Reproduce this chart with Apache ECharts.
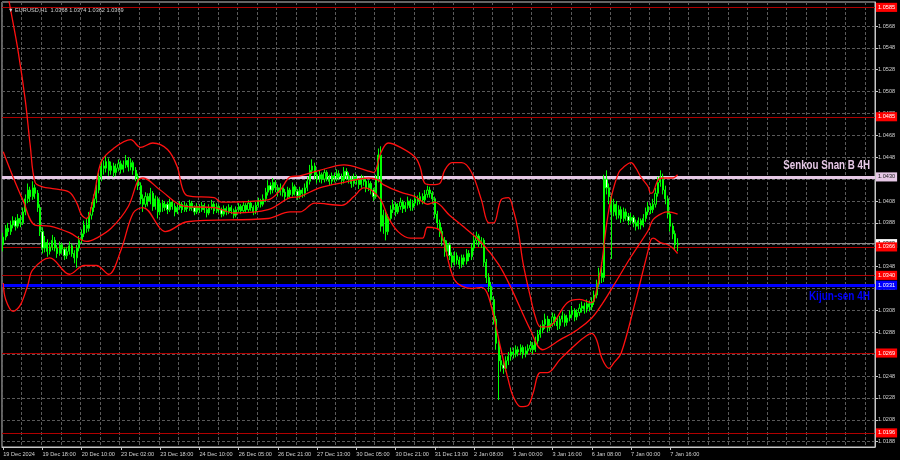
<!DOCTYPE html>
<html><head><meta charset="utf-8">
<script src="https://cdn.jsdelivr.net/npm/echarts@6/dist/echarts.min.js"></script>
<style>html,body{margin:0;padding:0;background:#000;}#c{width:900px;height:460px;}</style>
</head><body><div id="c"></div>
<script>
const titleText = '\u25BC EURUSD,H1  1.0368 1.0374 1.0362 1.0369';
const xTickLabels = ['19 Dec 2024','19 Dec 18:00','20 Dec 10:00','23 Dec 02:00','23 Dec 18:00','24 Dec 10:00','26 Dec 05:00','26 Dec 21:00','27 Dec 13:00','30 Dec 05:00','30 Dec 21:00','31 Dec 13:00','2 Jan 08:00','3 Jan 00:00','3 Jan 16:00','6 Jan 08:00','7 Jan 00:00','7 Jan 16:00'];
const yTicks = [1.0188,1.0208,1.0228,1.0248,1.0268,1.0288,1.0308,1.0328,1.0348,1.0368,1.0388,1.0408,1.0428,1.0448,1.0468,1.0488,1.0508,1.0528,1.0548,1.0568];

const opens = [
1.0368,1.0375,1.0383,1.0380,1.0386,1.0390,1.0385,1.0392,1.0388,1.0398,
1.0410,1.0418,1.0412,1.0420,1.0415,1.0402,1.0380,1.0365,1.0370,1.0362,
1.0366,1.0372,1.0365,1.0360,1.0368,1.0364,1.0358,1.0362,1.0367,1.0360,
1.0356,1.0365,1.0372,1.0378,1.0386,1.0383,1.0395,1.0402,1.0410,1.0418,
1.0430,1.0440,1.0438,1.0444,1.0436,1.0440,1.0434,1.0438,1.0442,1.0437,
1.0441,1.0445,1.0439,1.0443,1.0436,1.0430,1.0422,1.0410,1.0405,1.0412,
1.0408,1.0415,1.0403,1.0410,1.0398,1.0406,1.0402,1.0405,1.0400,1.0407,
1.0403,1.0398,1.0402,1.0405,1.0400,1.0404,1.0401,1.0406,1.0402,1.0398,
1.0403,1.0400,1.0404,1.0400,1.0397,1.0402,1.0405,1.0399,1.0403,1.0400,
1.0396,1.0401,1.0398,1.0402,1.0399,1.0395,1.0400,1.0403,1.0399,1.0404,
1.0400,1.0406,1.0402,1.0398,1.0404,1.0408,1.0405,1.0410,1.0416,1.0422,
1.0418,1.0425,1.0420,1.0416,1.0420,1.0416,1.0412,1.0418,1.0414,1.0421,
1.0417,1.0413,1.0418,1.0415,1.0420,1.0426,1.0436,1.0440,1.0432,1.0428,
1.0432,1.0428,1.0434,1.0430,1.0426,1.0431,1.0429,1.0433,1.0430,1.0427,
1.0435,1.0431,1.0428,1.0424,1.0430,1.0427,1.0423,1.0429,1.0426,1.0420,
1.0424,1.0418,1.0412,1.0428,1.0450,1.0385,1.0395,1.0380,1.0392,1.0400,
1.0405,1.0398,1.0403,1.0407,1.0401,1.0404,1.0408,1.0402,1.0406,1.0410,
1.0408,1.0412,1.0409,1.0414,1.0418,1.0415,1.0410,1.0396,1.0388,1.0380,
1.0372,1.0362,1.0368,1.0358,1.0352,1.0358,1.0354,1.0350,1.0356,1.0353,
1.0360,1.0357,1.0365,1.0372,1.0376,1.0370,1.0372,1.0352,1.0338,1.0330,
1.0318,1.0300,1.0278,1.0262,1.0258,1.0255,1.0262,1.0266,1.0270,1.0268,
1.0272,1.0270,1.0274,1.0268,1.0271,1.0273,1.0276,1.0272,1.0280,1.0286,
1.0290,1.0295,1.0300,1.0292,1.0296,1.0302,1.0298,1.0294,1.0300,1.0303,
1.0297,1.0301,1.0304,1.0308,1.0302,1.0306,1.0310,1.0312,1.0309,1.0314,
1.0311,1.0316,1.0322,1.0332,1.0342,1.0338,1.0428,1.0420,1.0412,1.0398,
1.0405,1.0395,1.0400,1.0392,1.0398,1.0394,1.0390,1.0393,1.0388,1.0385,
1.0390,1.0386,1.0392,1.0398,1.0403,1.0400,1.0405,1.0415,1.0425,1.0430,
1.0418,1.0410,1.0396,1.0385,1.0378,1.0368];
const closes = [
1.0375,1.0383,1.0380,1.0386,1.0390,1.0385,1.0392,1.0388,1.0398,1.0410,
1.0418,1.0412,1.0420,1.0415,1.0402,1.0380,1.0365,1.0370,1.0362,1.0366,
1.0372,1.0365,1.0360,1.0368,1.0364,1.0358,1.0362,1.0367,1.0360,1.0356,
1.0365,1.0372,1.0378,1.0386,1.0383,1.0395,1.0402,1.0410,1.0418,1.0430,
1.0440,1.0438,1.0444,1.0436,1.0440,1.0434,1.0438,1.0442,1.0437,1.0441,
1.0445,1.0439,1.0443,1.0436,1.0430,1.0422,1.0410,1.0405,1.0412,1.0408,
1.0415,1.0403,1.0410,1.0398,1.0406,1.0402,1.0405,1.0400,1.0407,1.0403,
1.0398,1.0402,1.0405,1.0400,1.0404,1.0401,1.0406,1.0402,1.0398,1.0403,
1.0400,1.0404,1.0400,1.0397,1.0402,1.0405,1.0399,1.0403,1.0400,1.0396,
1.0401,1.0398,1.0402,1.0399,1.0395,1.0400,1.0403,1.0399,1.0404,1.0400,
1.0406,1.0402,1.0398,1.0404,1.0408,1.0405,1.0410,1.0416,1.0422,1.0418,
1.0425,1.0420,1.0416,1.0420,1.0416,1.0412,1.0418,1.0414,1.0421,1.0417,
1.0413,1.0418,1.0415,1.0420,1.0426,1.0436,1.0440,1.0432,1.0428,1.0432,
1.0428,1.0434,1.0430,1.0426,1.0431,1.0429,1.0433,1.0430,1.0427,1.0435,
1.0431,1.0428,1.0424,1.0430,1.0427,1.0423,1.0429,1.0426,1.0420,1.0424,
1.0418,1.0412,1.0428,1.0450,1.0385,1.0395,1.0380,1.0392,1.0400,1.0405,
1.0398,1.0403,1.0407,1.0401,1.0404,1.0408,1.0402,1.0406,1.0410,1.0408,
1.0412,1.0409,1.0414,1.0418,1.0415,1.0410,1.0396,1.0388,1.0380,1.0372,
1.0362,1.0368,1.0358,1.0352,1.0358,1.0354,1.0350,1.0356,1.0353,1.0360,
1.0357,1.0365,1.0372,1.0376,1.0370,1.0372,1.0352,1.0338,1.0330,1.0318,
1.0300,1.0278,1.0262,1.0258,1.0255,1.0262,1.0266,1.0270,1.0268,1.0272,
1.0270,1.0274,1.0268,1.0271,1.0273,1.0276,1.0272,1.0280,1.0286,1.0290,
1.0295,1.0300,1.0292,1.0296,1.0302,1.0298,1.0294,1.0300,1.0303,1.0297,
1.0301,1.0304,1.0308,1.0302,1.0306,1.0310,1.0312,1.0309,1.0314,1.0311,
1.0316,1.0322,1.0332,1.0342,1.0338,1.0428,1.0420,1.0412,1.0398,1.0405,
1.0395,1.0400,1.0392,1.0398,1.0394,1.0390,1.0393,1.0388,1.0385,1.0390,
1.0386,1.0392,1.0398,1.0403,1.0400,1.0405,1.0415,1.0425,1.0430,1.0418,
1.0410,1.0396,1.0385,1.0378,1.0368,1.0369];
const highs = [
1.0379,1.0386,1.0388,1.0390,1.0394,1.0393,1.0396,1.0395,1.0402,1.0414,
1.0424,1.0421,1.0426,1.0423,1.0418,1.0405,1.0384,1.0376,1.0373,1.0370,
1.0377,1.0375,1.0368,1.0371,1.0370,1.0366,1.0366,1.0371,1.0369,1.0363,
1.0368,1.0376,1.0382,1.0390,1.0392,1.0398,1.0407,1.0414,1.0423,1.0434,
1.0446,1.0445,1.0449,1.0447,1.0444,1.0443,1.0442,1.0446,1.0445,1.0445,
1.0450,1.0448,1.0447,1.0445,1.0439,1.0433,1.0425,1.0414,1.0416,1.0415,
1.0420,1.0417,1.0413,1.0412,1.0409,1.0409,1.0408,1.0407,1.0410,1.0409,
1.0406,1.0405,1.0408,1.0407,1.0407,1.0406,1.0409,1.0408,1.0404,1.0406,
1.0405,1.0407,1.0406,1.0402,1.0405,1.0409,1.0407,1.0406,1.0405,1.0402,
1.0404,1.0403,1.0405,1.0404,1.0401,1.0403,1.0406,1.0405,1.0407,1.0406,
1.0409,1.0408,1.0404,1.0407,1.0411,1.0410,1.0414,1.0420,1.0427,1.0425,
1.0429,1.0427,1.0423,1.0424,1.0422,1.0419,1.0421,1.0420,1.0425,1.0423,
1.0419,1.0421,1.0420,1.0424,1.0430,1.0441,1.0446,1.0443,1.0435,1.0436,
1.0434,1.0437,1.0436,1.0432,1.0434,1.0434,1.0437,1.0436,1.0433,1.0439,
1.0438,1.0434,1.0431,1.0433,1.0432,1.0429,1.0432,1.0431,1.0428,1.0427,
1.0426,1.0420,1.0432,1.0456,1.0458,1.0400,1.0398,1.0396,1.0404,1.0409,
1.0407,1.0406,1.0411,1.0409,1.0407,1.0412,1.0410,1.0409,1.0414,1.0413,
1.0416,1.0415,1.0418,1.0422,1.0421,1.0417,1.0412,1.0399,1.0391,1.0384,
1.0375,1.0372,1.0370,1.0361,1.0362,1.0361,1.0357,1.0359,1.0359,1.0364,
1.0363,1.0369,1.0376,1.0380,1.0378,1.0375,1.0374,1.0355,1.0342,1.0334,
1.0321,1.0303,1.0282,1.0267,1.0263,1.0266,1.0270,1.0274,1.0274,1.0276,
1.0275,1.0277,1.0276,1.0275,1.0277,1.0280,1.0279,1.0284,1.0290,1.0295,
1.0299,1.0305,1.0303,1.0300,1.0306,1.0305,1.0301,1.0303,1.0307,1.0305,
1.0304,1.0308,1.0312,1.0310,1.0309,1.0314,1.0316,1.0315,1.0318,1.0317,
1.0320,1.0326,1.0336,1.0347,1.0352,1.0432,1.0436,1.0424,1.0415,1.0410,
1.0408,1.0404,1.0403,1.0402,1.0401,1.0397,1.0397,1.0395,1.0391,1.0393,
1.0392,1.0396,1.0402,1.0407,1.0406,1.0410,1.0420,1.0430,1.0436,1.0433,
1.0422,1.0413,1.0399,1.0388,1.0381,1.0374];
const lows = [
1.0362,1.0372,1.0376,1.0377,1.0383,1.0381,1.0383,1.0384,1.0386,1.0395,
1.0406,1.0407,1.0409,1.0410,1.0398,1.0376,1.0360,1.0361,1.0357,1.0359,
1.0363,1.0362,1.0356,1.0358,1.0360,1.0354,1.0355,1.0359,1.0357,1.0351,
1.0347,1.0362,1.0369,1.0375,1.0379,1.0380,1.0391,1.0398,1.0406,1.0415,
1.0426,1.0432,1.0434,1.0431,1.0432,1.0430,1.0431,1.0435,1.0433,1.0434,
1.0438,1.0435,1.0436,1.0432,1.0426,1.0418,1.0405,1.0398,1.0402,1.0403,
1.0405,1.0399,1.0400,1.0392,1.0395,1.0398,1.0399,1.0396,1.0398,1.0400,
1.0394,1.0396,1.0400,1.0397,1.0398,1.0398,1.0399,1.0399,1.0395,1.0396,
1.0397,1.0398,1.0397,1.0393,1.0395,1.0400,1.0396,1.0397,1.0397,1.0393,
1.0394,1.0395,1.0396,1.0396,1.0392,1.0393,1.0398,1.0396,1.0397,1.0397,
1.0398,1.0399,1.0395,1.0396,1.0402,1.0402,1.0403,1.0407,1.0413,1.0414,
1.0415,1.0416,1.0412,1.0413,1.0412,1.0408,1.0410,1.0411,1.0412,1.0413,
1.0409,1.0410,1.0411,1.0412,1.0417,1.0423,1.0432,1.0428,1.0424,1.0425,
1.0424,1.0425,1.0426,1.0422,1.0423,1.0425,1.0426,1.0427,1.0423,1.0424,
1.0427,1.0424,1.0420,1.0421,1.0423,1.0419,1.0420,1.0422,1.0416,1.0417,
1.0414,1.0408,1.0410,1.0425,1.0380,1.0378,1.0372,1.0377,1.0389,1.0397,
1.0394,1.0396,1.0400,1.0397,1.0398,1.0401,1.0399,1.0399,1.0403,1.0404,
1.0405,1.0405,1.0406,1.0411,1.0411,1.0405,1.0392,1.0383,1.0375,1.0367,
1.0357,1.0358,1.0354,1.0347,1.0349,1.0350,1.0346,1.0347,1.0349,1.0350,
1.0353,1.0354,1.0362,1.0368,1.0366,1.0365,1.0348,1.0333,1.0325,1.0313,
1.0295,1.0272,1.0226,1.0252,1.0250,1.0252,1.0258,1.0262,1.0264,1.0265,
1.0266,1.0267,1.0264,1.0265,1.0268,1.0270,1.0268,1.0270,1.0277,1.0283,
1.0287,1.0291,1.0288,1.0289,1.0293,1.0294,1.0290,1.0291,1.0297,1.0293,
1.0294,1.0298,1.0301,1.0298,1.0299,1.0303,1.0306,1.0305,1.0306,1.0307,
1.0308,1.0313,1.0319,1.0329,1.0333,1.0334,1.0414,1.0405,1.0355,1.0394,
1.0391,1.0392,1.0388,1.0389,1.0390,1.0386,1.0387,1.0384,1.0381,1.0382,
1.0382,1.0384,1.0389,1.0395,1.0396,1.0397,1.0402,1.0412,1.0421,1.0414,
1.0405,1.0392,1.0380,1.0373,1.0364,1.0362];

const upperBand = [[0,1.0619],[3,1.0583],[6,1.0546],[9,1.0500],[11,1.0459],[13,1.0425],[16,1.0421],[21,1.0419],[27,1.0416],[30,1.0406],[32,1.0395],[34,1.0392],[37,1.0413],[40,1.0444],[45,1.0456],[52,1.0464],[56,1.0457],[61,1.0461],[67,1.0455],[71,1.0439],[73,1.0420],[75,1.0413],[86,1.0411],[89,1.0407],[108,1.0409],[113,1.0418],[117,1.0430],[121,1.0431],[129,1.0436],[139,1.0441],[148,1.0436],[151,1.0434],[154,1.0452],[157,1.0461],[162,1.0457],[168,1.0448],[170,1.0439],[172,1.0424],[175,1.0423],[178,1.0424],[180,1.0436],[183,1.0443],[187,1.0443],[191,1.0434],[195,1.0409],[198,1.0388],[200,1.0388],[203,1.0409],[206,1.0411],[208,1.0400],[210,1.0381],[212,1.0351],[215,1.0320],[217,1.0302],[219,1.0293],[222,1.0293],[230,1.0315],[235,1.0318],[240,1.0315],[242,1.0327],[244,1.0350],[246,1.0386],[248,1.0412],[251,1.0434],[253,1.0439],[256,1.0443],[258,1.0438],[260,1.0430],[263,1.0421],[264,1.0415],[265,1.0416],[267,1.0427],[269,1.0429],[273,1.0429],[275,1.0432]];
const middleBand = [[0,1.0453],[4,1.0430],[8,1.0409],[13,1.0386],[19,1.0385],[27,1.0379],[34,1.0371],[38,1.0374],[44,1.0383],[51,1.0403],[55,1.0427],[57,1.0429],[64,1.0418],[74,1.0403],[86,1.0402],[94,1.0397],[108,1.0400],[117,1.0411],[121,1.0412],[129,1.0420],[139,1.0425],[149,1.0429],[153,1.0427],[155,1.0423],[162,1.0416],[168,1.0412],[173,1.0405],[176,1.0407],[182,1.0395],[188,1.0384],[195,1.0370],[202,1.0350],[207,1.0329],[215,1.0290],[220,1.0272],[227,1.0281],[234,1.0290],[240,1.0301],[244,1.0313],[249,1.0331],[256,1.0357],[263,1.0381],[265,1.0391],[269,1.0397],[271,1.0398],[275,1.0396]];
const lowerBand = [[0,1.0333],[1,1.0318],[4,1.0307],[7,1.0313],[10,1.0331],[12,1.0345],[19,1.0356],[27,1.0341],[33,1.0349],[38,1.0349],[43,1.0341],[48,1.0363],[53,1.0397],[57,1.0402],[64,1.0383],[66,1.0380],[75,1.0389],[108,1.0392],[117,1.0398],[121,1.0398],[127,1.0406],[138,1.0404],[143,1.0412],[147,1.0420],[150,1.0418],[154,1.0409],[157,1.0393],[161,1.0380],[166,1.0374],[171,1.0374],[173,1.0384],[178,1.0381],[184,1.0336],[191,1.0328],[195,1.0329],[198,1.0320],[203,1.0272],[206,1.0244],[208,1.0229],[211,1.0220],[214,1.0221],[216,1.0232],[219,1.0251],[222,1.0251],[227,1.0263],[234,1.0278],[238,1.0285],[240,1.0287],[242,1.0281],[244,1.0265],[247,1.0255],[249,1.0260],[252,1.0269],[258,1.0318],[261,1.0345],[263,1.0363],[264,1.0372],[265,1.0374],[268,1.0370],[271,1.0368],[273,1.0365],[275,1.0360]];

const redLevels = [1.0585, 1.0485, 1.0366, 1.0340, 1.0269, 1.0196];
const lastPrice = 1.0369;
const senkouB = 1.0430;
const kijun = 1.0331;
const senkouLabel = 'Senkou Snan B 4H';
const kijunLabel = 'Kijun-sen 4H';

const SLOTS = 356;
const Y_MIN = 1.01831, Y_MAX = 1.05899;
const N = opens.length;
const cats = Array.from({length: SLOTS}, (_, i) => String(i));
const candleData = opens.map((o, i) => [o, closes[i], lows[i], highs[i]]);
const FF = "'Liberation Sans', Arial, sans-serif";
const FS = 5.6;

function box(v, bg, fg) {
  return {show: true, position: 'end', distance: 1, formatter: v.toFixed(4), backgroundColor: bg, color: fg,
    fontSize: FS, fontFamily: FF, padding: [1.5, 2, 1, 2], lineHeight: FS + 1};
}
const mark = [];
mark.push({yAxis: lastPrice, lineStyle: {color: '#8c8c8c', width: 1, type: 'solid'}, label: box(lastPrice, '#ffffff', '#000000')});
redLevels.forEach(v => mark.push({yAxis: v, lineStyle: {color: '#b00000', width: 1.2, type: 'solid'}, label: box(v, '#ff0000', '#ffffff')}));
mark.push({yAxis: senkouB, lineStyle: {color: '#e6c8e6', width: 3, type: 'solid'}, label: box(senkouB, '#e6c8e6', '#202020')});
mark.push({yAxis: kijun, lineStyle: {color: '#0000ff', width: 3, type: 'solid'}, label: box(kijun, '#0000ff', '#ffffff')});

function band(data) {
  return {type: 'line', data: data, showSymbol: false, symbol: 'none', smooth: 0.35, silent: true, z: 4,
    lineStyle: {color: '#ff1010', width: 1.3}, clip: true};
}

const chart = echarts.init(document.getElementById('c'), null, {renderer: 'canvas'});
chart.setOption({
  backgroundColor: '#000000',
  animation: false,
  title: {text: titleText, left: 3, top: 2, textStyle: {color: '#d0d0d0', fontSize: FS, fontWeight: 'normal', fontFamily: FF}},
  grid: {left: 2, right: 25, top: 2, bottom: 13, show: true, borderColor: '#c8c8c8', borderWidth: 1},
  xAxis: {
    type: 'category', data: cats, boundaryGap: true,
    axisLine: {show: true, lineStyle: {color: '#c8c8c8'}},
    axisTick: {show: true, alignWithLabel: true, length: 3, interval: (i) => i % 16 === 0 && i < N, lineStyle: {color: '#c8c8c8'}},
    axisLabel: {show: true, interval: (i) => i % 16 === 0 && i < N, formatter: (v, i) => xTickLabels[Math.round(i / 16)] || '',
      align: 'left', color: '#d0d0d0', fontSize: FS, fontFamily: FF, margin: 4},
    splitLine: {show: true, interval: (i) => i % 8 === 0, lineStyle: {color: '#5a5a5a', type: [3, 2], width: 1}}
  },
  yAxis: {
    type: 'value', position: 'right', min: Y_MIN, max: Y_MAX, scale: true,
    axisLine: {show: true, lineStyle: {color: '#c8c8c8'}},
    axisTick: {show: true, length: 3, customValues: yTicks, lineStyle: {color: '#c8c8c8'}},
    axisLabel: {show: true, customValues: yTicks, formatter: (v) => v.toFixed(4), color: '#d0d0d0', fontSize: FS, fontFamily: FF, margin: 3},
    splitLine: {show: true, lineStyle: {color: '#5a5a5a', type: [3, 2], width: 1}}
  },
  series: [
    {type: 'candlestick', data: candleData, barWidth: 1.6, z: 3,
      itemStyle: {color: '#000000', color0: '#ffffff', borderColor: '#00ff00', borderColor0: '#00ff00', borderWidth: 1},
      markLine: {silent: true, symbol: ['none', 'none'], precision: 4, animation: false, z: 2, data: mark}},
    band(upperBand), band(middleBand), band(lowerBand)
  ]
});

// Level captions: positioned from the axis scale, narrowed horizontally like the original condensed font
const rightEdge = chart.getWidth() - 25 - 5;
const ySenkou = chart.convertToPixel({yAxisIndex: 0}, senkouB);
const yKijun = chart.convertToPixel({yAxisIndex: 0}, kijun);
chart.setOption({
  graphic: [
    {type: 'text', x: rightEdge, y: ySenkou - 5, scaleX: 0.78, z: 10, silent: true,
      style: {text: senkouLabel, fill: '#e6c8e6', font: "bold 12.5px 'Liberation Sans', Arial, sans-serif", align: 'right', verticalAlign: 'bottom'}},
    {type: 'text', x: rightEdge, y: yKijun + 5, scaleX: 0.8, z: 10, silent: true,
      style: {text: kijunLabel, fill: '#0000ff', font: "bold 12.5px 'Liberation Sans', Arial, sans-serif", align: 'right', verticalAlign: 'top'}}
  ]
});
</script></body></html>
